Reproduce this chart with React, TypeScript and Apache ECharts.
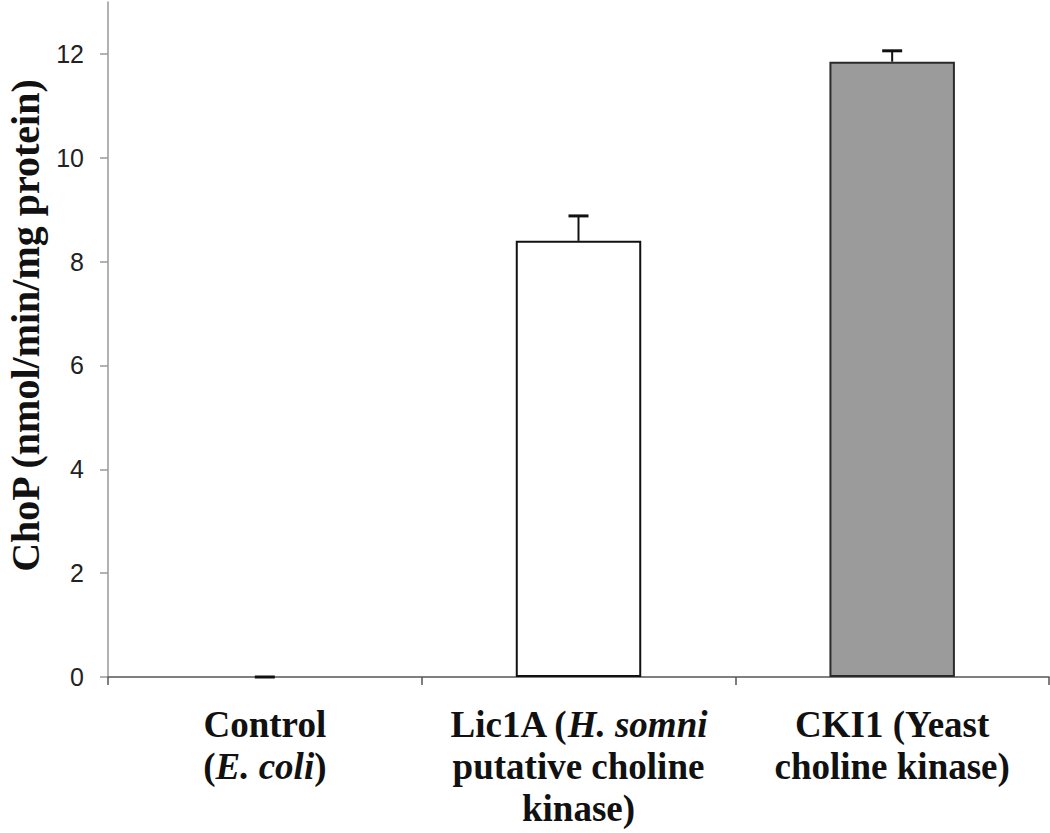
import React, { useEffect, useRef } from "react";
import * as echarts from "echarts";

const categories = ["Control", "Lic1A", "CKI1"];
const categoryLabels = [
  "Control\n({i|E. coli})",
  "Lic1A ({i|H. somni}\nputative choline\nkinase)",
  "CKI1 (Yeast\ncholine kinase)",
];
const values = [0, 8.4, 11.85];
const errors = [0, 0.48, 0.21];
const yTicks = [0, 2, 4, 6, 8, 10, 12];
const yAxisTitle = "ChoP (nmol/min/mg protein)";

export default function App() {
  const ref = useRef<HTMLDivElement>(null);
  useEffect(() => {
    document.body.style.margin = "0";
    if (!ref.current) return;
    const chart = echarts.init(ref.current, undefined, { renderer: "svg" });
    const fills = ["#ffffff", "#ffffff", "#9b9b9b"];
    const borders = ["#111111", "#111111", "#2a2a2a"];
    const serif = "'Liberation Serif', 'Times New Roman', serif";
    chart.setOption({
      animation: false,
      backgroundColor: "#ffffff",
      grid: { left: 108, right: 1, top: 2, bottom: 156, containLabel: false, outerBoundsMode: "none" },
      xAxis: {
        type: "category",
        data: categories,
        axisLine: { show: true, lineStyle: { color: "#555", width: 1.5 } },
        axisTick: { show: true, length: 8, lineStyle: { color: "#555", width: 1.5 } },
        axisLabel: {
          interval: 0,
          margin: 26,
          fontFamily: serif,
          fontWeight: 700,
          fontSize: 37,
          lineHeight: 42,
          color: "#111",
          formatter: (_v: string, i: number) => categoryLabels[i],
          rich: {
            i: { fontFamily: serif, fontWeight: 700, fontStyle: "italic", fontSize: 37, lineHeight: 42, color: "#111" },
          },
        },
      },
      yAxis: {
        type: "value",
        min: 0,
        max: 13,
        interval: 2,
        name: yAxisTitle,
        nameLocation: "middle",
        nameRotate: 90,
        nameGap: 60,
        nameTextStyle: {
          fontFamily: serif,
          fontWeight: "bold",
          fontSize: 40,
          color: "#111",
          padding: [0, 0, 0, 28],
        },
        axisLine: { show: true, lineStyle: { color: "#999", width: 1.5 } },
        axisTick: { show: true, length: 8, customValues: yTicks, lineStyle: { color: "#999", width: 1.5 } },
        axisLabel: {
          customValues: yTicks,
          margin: 24,
          fontFamily: "Liberation Sans",
          fontSize: 25,
          color: "#222",
        },
        splitLine: { show: false },
      },
      series: [
        {
          type: "bar",
          barWidth: "40%",
          data: values.map((v, i) => ({
            value: v,
            itemStyle: {
              color: fills[i],
              borderColor: v > 0 ? borders[i] : "transparent",
              borderWidth: 2,
            },
          })),
        },
        {
          type: "custom",
          encode: { x: 0, y: [1, 2] },
          data: values.map((v, i) => [i, v, v + errors[i]]),
          z: 5,
          renderItem: (_params: any, api: any) => {
            const x = api.value(0);
            const lo = api.coord([x, api.value(1)]);
            const hi = api.coord([x, api.value(2)]);
            return {
              type: "group",
              children: [
                {
                  type: "line",
                  shape: { x1: lo[0], y1: lo[1], x2: hi[0], y2: hi[1] },
                  style: { stroke: "#111", lineWidth: 2 },
                },
                {
                  type: "line",
                  shape: { x1: hi[0] - 10, y1: hi[1], x2: hi[0] + 10, y2: hi[1] },
                  style: { stroke: "#111", lineWidth: 3 },
                },
              ],
            };
          },
        },
      ],
    });
    return () => chart.dispose();
  }, []);
  return <div ref={ref} style={{ width: 1050, height: 833 }} />;
}
